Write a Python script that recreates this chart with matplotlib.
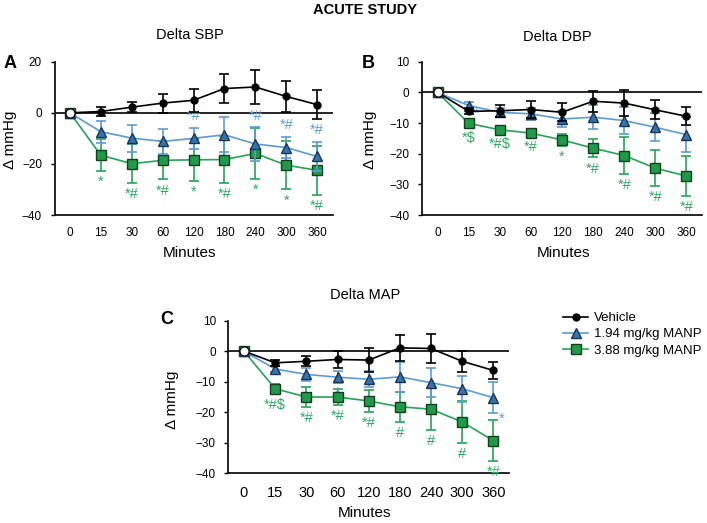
import numpy as np
import matplotlib
matplotlib.use("Agg")
import matplotlib.pyplot as plt

plt.rcParams['font.family'] = ['Liberation Sans', 'DejaVu Sans']

minutes = ['0', '15', '30', '60', '120', '180', '240', '300', '360']

# Delta SBP
sbp_veh = [0, 0.5, 2.2, 3.8, 4.9, 9.5, 10.1, 6.4, 3.2]
sbp_veh_err = [0, 1.7, 2.0, 3.7, 4.6, 5.6, 6.5, 6.0, 5.8]
sbp_low = [0, -7.4, -9.9, -11.2, -10.0, -8.6, -12.2, -13.6, -17.1]
sbp_low_err = [0, 4.3, 5.3, 4.9, 4.0, 6.9, 6.5, 4.2, 5.8]
sbp_high = [0, -16.6, -19.9, -18.6, -18.4, -18.3, -15.9, -20.5, -22.5]
sbp_high_err = [0, 6.2, 7.6, 7.5, 8.3, 9.2, 9.9, 9.5, 9.5]
sbp_low_marks = ['', '', '', '', '*#', '', '*#', '*#', '*#']
sbp_high_marks = ['', '*', '*#', '*#', '*', '*#', '*', '*', '*#']

# Delta DBP
dbp_veh = [0, -6.2, -6.0, -5.6, -6.5, -2.9, -3.5, -5.7, -7.8]
dbp_veh_err = [0, 1.0, 2.0, 2.7, 3.0, 3.4, 4.3, 3.1, 2.9]
dbp_low = [0, -4.3, -6.5, -7.0, -8.7, -8.1, -9.2, -11.4, -13.8]
dbp_low_err = [0, 1.0, 1.5, 2.0, 2.5, 4.0, 4.5, 4.6, 5.8]
dbp_high = [0, -10.1, -12.2, -13.3, -15.5, -18.2, -20.6, -24.7, -27.3]
dbp_high_err = [0, 1.0, 1.0, 1.0, 2.0, 3.0, 6.0, 5.8, 6.6]
dbp_low_marks = ['', '*', '', '', '', '', '', '', '']
dbp_high_marks = ['', '*$', '*#$', '*#', '*', '*#', '*#', '*#', '*#']

# Delta MAP
map_veh = [0, -3.8, -3.3, -2.7, -2.9, 1.1, 0.9, -3.3, -6.3]
map_veh_err = [0, 1.0, 1.7, 2.9, 4.0, 4.3, 4.9, 3.5, 2.9]
map_low = [0, -5.8, -7.6, -8.5, -9.2, -8.4, -10.3, -12.3, -15.2]
map_low_err = [0, 1.0, 2.2, 2.0, 2.6, 5.0, 4.7, 4.3, 5.0]
map_high = [0, -12.3, -15.0, -15.0, -16.3, -18.2, -19.0, -23.2, -29.3]
map_high_err = [0, 1.5, 3.2, 2.6, 3.6, 4.9, 6.9, 6.8, 6.7]
map_low_marks = ['', '', '', '*', '', '', '', '', '*']
map_high_marks = ['', '*#$', '*#', '*#', '*#', '#', '#', '#', '*#']

series_names = ['Vehicle', '1.94 mg/kg MANP', '3.88 mg/kg MANP']

W, H = 707, 523
BLUE_LINE = '#5b9bd5'
BLUE_FILL = '#3474b0'
GREEN_LINE = '#22a555'
GREEN_FILL = '#1f9a48'
BLUE_TXT = '#5a9bd8'
GREEN_TXT = '#2aab5e'
MARK_FONT = dict(fontsize=10.5)

fig = plt.figure(figsize=(W / 100, H / 100), dpi=100)


def px_axes(left, top, right, bottom):
    return fig.add_axes([left / W, 1 - bottom / H, (right - left) / W, (bottom - top) / H])


def ftext(x, y, s, **kw):
    fig.text(x / W, 1 - y / H, s, ha='center', va='center', **kw)


def panel(ax, veh, veh_err, low, low_err, high, high_err,
          low_marks, high_marks, low_pos, ylim, yticks, xfs):
    x = np.arange(len(minutes))
    ax.axhline(0, color='black', lw=1.2, zorder=1)

    ax.errorbar(x, high, yerr=high_err, fmt='none', ecolor=GREEN_LINE,
                elinewidth=1.2, capsize=3.5, capthick=1.2, zorder=2)
    h3, = ax.plot(x, high, '-s', color=GREEN_LINE, lw=1.2, ms=6.5,
                  mfc=GREEN_FILL, mec='#123d20', mew=1.0, zorder=3)
    ax.errorbar(x, low, yerr=low_err, fmt='none', ecolor=BLUE_LINE,
                elinewidth=1.2, capsize=3.5, capthick=1.2, zorder=4)
    h2, = ax.plot(x, low, '-^', color=BLUE_LINE, lw=1.2, ms=7,
                  mfc=BLUE_FILL, mec='#1b3550', mew=1.0, zorder=5)
    ax.errorbar(x, veh, yerr=veh_err, fmt='none', ecolor='black',
                elinewidth=1.2, capsize=3.5, capthick=1.2, zorder=6)
    h1, = ax.plot(x, veh, '-o', color='black', lw=1.2, ms=5, zorder=7)
    ax.plot([0], [0], 'o', ms=6.5, mfc='white', mec='black', mew=0.8,
            ls='none', zorder=8)

    # significance marks
    for i, s in enumerate(high_marks):
        if s:
            ax.annotate(s, (i, high[i] - high_err[i]), xytext=(0, -3),
                        textcoords='offset points', ha='center', va='top',
                        color=GREEN_TXT, **MARK_FONT)
    for i, s in enumerate(low_marks):
        if not s:
            continue
        pos = low_pos[i] if isinstance(low_pos, list) else low_pos
        if pos == 'above':
            ax.annotate(s, (i, low[i] + low_err[i]), xytext=(0, 3.5),
                        textcoords='offset points', ha='center', va='bottom',
                        color=BLUE_TXT, **MARK_FONT)
        elif pos == 'below':
            ax.annotate(s, (i, low[i] - low_err[i]), xytext=(0, -2),
                        textcoords='offset points', ha='center', va='top',
                        color=BLUE_TXT, **MARK_FONT)
        else:
            ax.annotate(s, (i, low[i] - low_err[i]), xytext=(4, 1),
                        textcoords='offset points', ha='left', va='top',
                        color=BLUE_TXT, **MARK_FONT)

    ax.set_xlim(-0.5, 8.5)
    ax.set_ylim(*ylim)
    ax.set_yticks(yticks)
    ax.set_xticks(x)
    ax.set_xticklabels(minutes, fontsize=xfs)
    ax.tick_params(axis='x', length=0, pad=9)
    ax.tick_params(axis='y', length=3, width=1, direction='out', labelsize=8.5, pad=6)
    for sp in ['top', 'right']:
        ax.spines[sp].set_visible(False)
    for sp in ['left', 'bottom']:
        ax.spines[sp].set_linewidth(1.2)
    return h1, h2, h3


axA = px_axes(54.5, 61.7, 332.6, 215)
panel(axA, sbp_veh, sbp_veh_err, sbp_low, sbp_low_err, sbp_high, sbp_high_err,
      sbp_low_marks, sbp_high_marks, 'above', (-40, 20), [-40, -20, 0, 20], 8.5)

axB = px_axes(422, 61.7, 702, 215)
panel(axB, dbp_veh, dbp_veh_err, dbp_low, dbp_low_err, dbp_high, dbp_high_err,
      dbp_low_marks, dbp_high_marks, 'right', (-40, 10),
      [-40, -30, -20, -10, 0, 10], 8.5)

axC = px_axes(228.4, 320.7, 509, 473.3)
map_pos = ['below'] * 8 + ['right']
handles = panel(axC, map_veh, map_veh_err, map_low, map_low_err, map_high, map_high_err,
                map_low_marks, map_high_marks, map_pos, (-40, 10),
                [-40, -30, -20, -10, 0, 10], 10.5)

ftext(365, 10, 'ACUTE STUDY', fontsize=10.5, fontweight='bold')
ftext(190, 35, 'Delta SBP', fontsize=10.5)
ftext(557, 37, 'Delta DBP', fontsize=10.5)
ftext(365, 295, 'Delta MAP', fontsize=10.5)
ftext(10, 63, 'A', fontsize=13, fontweight='bold')
ftext(368, 63, 'B', fontsize=13, fontweight='bold')
ftext(167, 320, 'C', fontsize=13, fontweight='bold')
ftext(10, 140, '\u0394 mmHg', fontsize=11, rotation=90)
ftext(370, 140, '\u0394 mmHg', fontsize=11, rotation=90)
ftext(172, 400, '\u0394 mmHg', fontsize=11, rotation=90)
ftext(190, 253, 'Minutes', fontsize=11)
ftext(563, 253, 'Minutes', fontsize=11)
ftext(365, 513, 'Minutes', fontsize=11)

fig.legend(handles, series_names, loc='upper left',
           bbox_to_anchor=(563 / W, 1 - 312 / H), frameon=False,
           fontsize=9.5, handlelength=1.9, handletextpad=0.45,
           labelspacing=0.3, borderpad=0, borderaxespad=0)

fig.savefig('out.png', dpi=100)
